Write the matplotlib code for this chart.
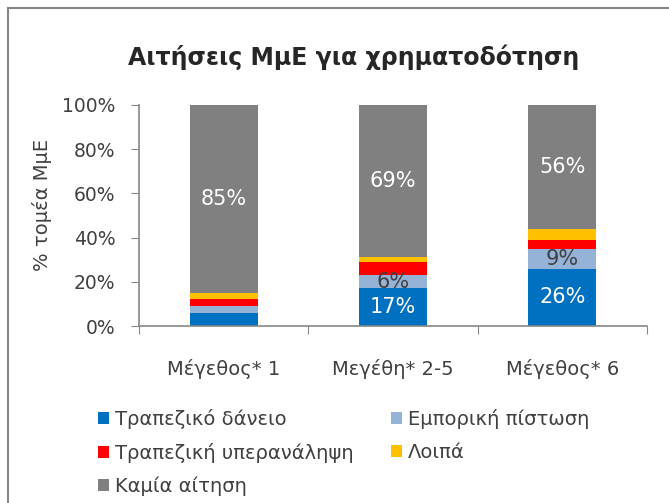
import matplotlib.pyplot as plt
from matplotlib.patches import Rectangle
import numpy as np

# Δεδομένα
categories = ["Μέγεθος* 1", "Μεγέθη* 2-5", "Μέγεθος* 6"]
bank_loan = [6, 17, 26]
trade_credit = [3, 6, 9]
overdraft = [3, 6, 4]
other = [3, 2, 5]
no_request = [85, 69, 56]

series_names = ["Τραπεζικό δάνειο", "Εμπορική πίστωση", "Τραπεζική υπερανάληψη",
                "Λοιπά", "Καμία αίτηση"]
colors = ["#0070C0", "#95B3D7", "#FF0000", "#FFC000", "#808080"]
label_colors = ["white", "#404040", None, None, "white"]
# ποιες τιμές έχουν ετικέτα
show_labels = [[False, True, True], [False, True, True], [False] * 3, [False] * 3, [True] * 3]

plt.rcParams['font.family'] = ['DejaVu Sans']
text_color = "#404040"

fig = plt.figure(figsize=(6.69, 5.03), dpi=100)
ax = fig.add_axes([139 / 669, 1 - 326 / 503, 508 / 669, 221 / 503])

x = np.arange(len(categories))
data = [bank_loan, trade_credit, overdraft, other, no_request]
bottom = np.zeros(len(categories))
for vals, name, col, lcol, show in zip(data, series_names, colors, label_colors, show_labels):
    vals = np.array(vals, dtype=float)
    ax.bar(x, vals, 0.4, bottom=bottom, color=col, label=name)
    for xi, b, v, s in zip(x, bottom, vals, show):
        if s:
            ax.text(xi, b + v / 2, f"{v:.0f}%", ha="center", va="center",
                    color=lcol, fontsize=15)
    bottom += vals

ax.set_xlim(-0.5, 2.5)
ax.set_ylim(0, 100)
ax.set_yticks(range(0, 101, 20))
ax.set_yticklabels([f"{v}%" for v in range(0, 101, 20)])
ax.set_xticks([-0.5, 0.5, 1.5, 2.5], minor=False)
ax.set_xticklabels([])
ax.set_xticks(x, minor=True)
ax.set_xticklabels(categories, minor=True)
ax.tick_params(axis="x", which="major", length=6, color="#868686", direction="out")
ax.tick_params(axis="x", which="minor", length=0, pad=24, labelsize=14, labelcolor=text_color)
ax.tick_params(axis="y", length=6, color="#868686", labelsize=13.5, labelcolor=text_color, pad=11)
for s in ["top", "right"]:
    ax.spines[s].set_visible(False)
for s in ["left", "bottom"]:
    ax.spines[s].set_color("#868686")
    ax.spines[s].set_linewidth(1.2)

ax.set_ylabel("% τομέα ΜμΕ", fontsize=14, color=text_color)
ax.yaxis.set_label_coords(-0.172, 0.55)
fig.text(354 / 669, 1 - 57 / 503, "Αιτήσεις ΜμΕ για χρηματοδότηση", ha="center", va="center",
         fontsize=17, fontweight="bold", color="#262626")

# σειρά υπομνήματος ανά γραμμή
handles, labels = ax.get_legend_handles_labels()
order = [0, 2, 4, 1, 3]
leg = fig.legend([handles[i] for i in order], [labels[i] for i in order], ncol=2,
                 loc="upper left", bbox_to_anchor=(98 / 669, 1 - 409 / 503),
                 frameon=False, fontsize=14, handlelength=0.55, handleheight=0.55,
                 handletextpad=0.3, columnspacing=1.95, labelspacing=0.7,
                 borderpad=0, borderaxespad=0, labelcolor=text_color)

# πλαίσιο γραφήματος
fig.patches.append(Rectangle((8 / 669, -0.05), 1.1, 1 - 8 / 503 + 0.05, transform=fig.transFigure,
                             fill=False, edgecolor="#868686", linewidth=1.5))

plt.savefig("out.png", dpi=100)
